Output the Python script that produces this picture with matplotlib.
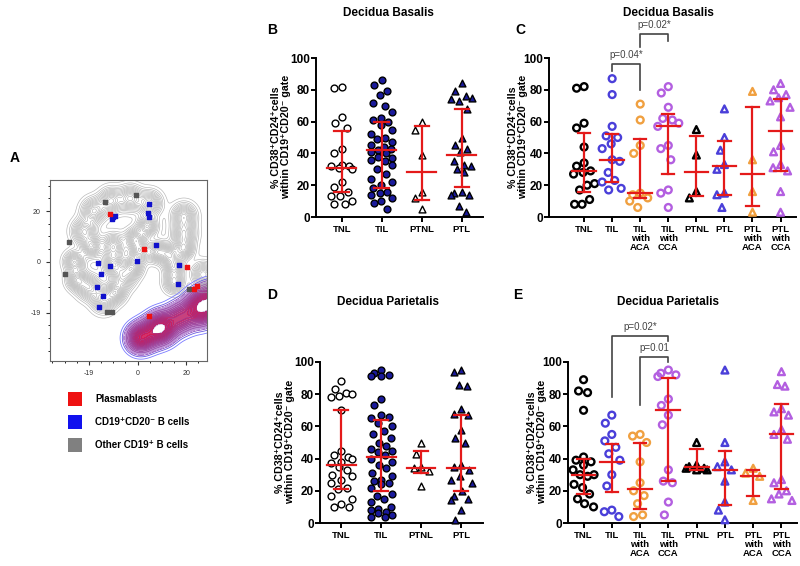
import matplotlib
matplotlib.use('Agg')
import matplotlib.pyplot as plt
import numpy as np
from matplotlib.colors import LinearSegmentedColormap

plt.rcParams['font.family'] = ['Liberation Sans', 'DejaVu Sans']
plt.rcParams['font.weight'] = 'bold'

# ---------------- data ----------------
groups4 = ['TNL', 'TIL', 'PTNL', 'PTL']
groups8 = ['TNL', 'TIL', 'TIL\nwith\nACA', 'TIL\nwith\nCCA', 'PTNL', 'PTL', 'PTL\nwith\nACA', 'PTL\nwith\nCCA']

# B: Decidua Basalis, 4 groups
b_vals = [
    [82, 81, 63, 59, 56, 43, 40, 33, 32, 32, 31, 30, 22, 19, 16, 13, 13, 10, 8, 8],
    [86, 83, 79, 77, 72, 70, 66, 62, 61, 60, 58, 55, 52, 50, 49, 47, 45, 44, 43, 42,
     41, 40, 38, 37, 36, 35, 33, 30, 27, 24, 22, 20, 18, 16, 15, 14, 12, 10, 9, 5],
    [60, 55, 39, 16, 12, 5],
    [84, 79, 76, 75, 74, 73, 68, 50, 45, 43, 41, 35, 33, 32, 30, 28, 16, 15, 14, 14, 7, 3],
]
b_med = [31, 42, 28, 39]
b_q1 = [16, 18, 11, 19]
b_q3 = [54, 60, 57, 68]

# C: Decidua Basalis, 8 groups
c_vals = [
    [82, 81, 59, 56, 44, 34, 32, 29, 28, 27, 21, 20, 17, 11, 8, 8],
    [87, 77, 57, 51, 50, 46, 43, 36, 35, 28, 23, 22, 18, 17],
    [71, 61, 45, 40, 15, 14, 12, 10, 6],
    [82, 78, 69, 62, 61, 59, 57, 45, 43, 36, 17, 15, 6],
    [55, 39, 16, 12],
    [68, 50, 42, 33, 30, 15, 14, 6],
    [79, 36, 16, 3],
    [84, 80, 77, 75, 73, 69, 63, 45, 41, 33, 31, 29, 16, 3],
]
c_med = [29, 36, 15, 57, 28, 32, 27, 54]
c_q1 = [16, 22, 12, 27, 13, 14, 7, 29]
c_q3 = [53, 52, 49, 65, 51, 48, 69, 74]

# D: Decidua Parietalis, 4 groups
d_vals = [
    [88, 83, 81, 80, 79, 78, 70, 45, 42, 41, 40, 38, 37, 35, 33, 30, 29, 27, 25,
     22, 21, 17, 15, 12, 10, 10],
    [95, 93, 92, 91, 91, 77, 73, 67, 66, 65, 62, 60, 57, 55, 53, 50, 48, 46, 45, 44,
     42, 40, 38, 36, 34, 31, 29, 27, 26, 25, 24, 22, 18, 17, 15, 13, 10, 9, 8, 7, 6, 5, 4, 4],
    [50, 43, 35, 34, 32, 23],
    [95, 94, 86, 85, 71, 68, 67, 58, 53, 50, 36, 35, 33, 29, 27, 25, 20, 17, 15, 14, 8, 2],
]
d_med = [36, 41, 34, 34]
d_q1 = [21, 20, 31, 20]
d_q3 = [70, 64, 45, 67]

# E: Decidua Parietalis, 8 groups
e_vals = [
    [89, 82, 81, 70, 41, 39, 38, 36, 33, 30, 30, 29, 24, 22, 18, 15, 12, 10],
    [67, 62, 55, 51, 47, 43, 39, 30, 23, 8, 7, 4],
    [55, 54, 50, 38, 25, 20, 17, 12, 5, 4],
    [95, 93, 92, 91, 77, 73, 67, 61, 33, 26, 25, 13, 5],
    [50, 36, 35, 34, 34, 33, 33],
    [95, 50, 38, 35, 33, 26, 13, 8, 2],
    [34, 31, 29, 14],
    [94, 86, 85, 71, 69, 67, 58, 55, 52, 27, 25, 20, 18, 15, 14],
]
e_med = [30, 38, 21, 70, 35, 33, 29, 55]
e_q1 = [18, 19, 9, 26, 33, 11, 17, 21]
e_q3 = [40, 49, 50, 90, 46, 45, 33, 74]

# significance brackets: (group a, group b, bar height, leg a, leg b, label)
c_brackets = [(1, 2, 96, 92, 80, 'p=0.04*'), (2, 3, 115, 107, 111, 'p=0.02*')]
e_brackets = [(1, 3, 116, 78, 113, 'p=0.02*'), (2, 3, 103, 73, 100, 'p=0.01')]

# A: tSNE map, density blobs (x, y, sigma, weight)
gray_blobs = [(-22, 12, 3, 1), (-18, 20, 3, 1), (-11, 24, 3, 1), (-3, 25, 3, 1), (5, 23, 3, 1),
              (4, 14, 2.5, 1), (-1, 9, 2.5, 1), (-10, 6, 3, 1), (-19, 6, 2.5, 1), (19, 18, 3, 1),
              (19, 11, 3, 1), (19, 5, 2.5, 1), (1, 4, 2.5, 1), (8, 4, 2.5, 1), (13, 3, 2.5, 1),
              (-26, 0, 2.5, 1), (-25, -7, 2.5, 1), (-20, -10, 3, 1), (-14, -15, 3, 1),
              (-9, -12, 2.5, 1), (-6, -6, 3, 1), (-2, -2, 2.5, 1), (-10, -1, 2.5, 1),
              (15, -2, 2.5, 1), (15, -8, 2.5, 1), (27, -5, 3, 1)]
plasma_blobs = [(1, -30, 3.2, 1.0), (5.5, -28, 3.4, 0.55), (10, -25.8, 3.5, 1.2),
                (17.5, -22, 3.5, 0.7), (25.6, -18.3, 3.8, 1.2), (31, -15, 3.8, 0.9)]
blue_pts_x = [4.8, 4.4, 4.8, -10.7, -10, -9.3, 7.5, -0.3, -16.2, -11.4, -15.1, 17.1, 16.7, -16.8, -14.1, -15.9]
blue_pts_y = [22.6, 19.1, 17.5, 16.7, 17.8, 18.2, 6.6, 0.4, -0.3, -1.6, -4.6, -1.4, -8.6, -9.9, -13.3, -17.8]
red_pts_x = [-11.4, 2.7, 20.1, 4.7, 23.3, 24.2]
red_pts_y = [18.7, 5, -2.2, -21.2, -10.5, -9.5]
gray_pts_x = [-13.4, -0.7, -28.2, -29.7, -12.7, -10.4, 21.2]
gray_pts_y = [23.7, 26.3, 7.9, -4.6, -19.7, -19.7, -10.5]
legend_labels = ['Plasmablasts', 'CD19⁺CD20⁻ B cells', 'Other CD19⁺ B cells']
legend_colors = ['#ee1111', '#1111ee', '#808080']

# ---------------- styles ----------------
RED = '#e41a1a'
BLUE = '#4a3fd9'
ORANGE = '#f0a040'
PURPLE = '#b35fe0'
NAVY = '#1a1a9a'
style4 = [dict(m='o', fc='white', ec='black'), dict(m='o', fc=NAVY, ec='black'),
          dict(m='^', fc='white', ec='black'), dict(m='^', fc=NAVY, ec='black')]
cols8 = ['black', BLUE, ORANGE, PURPLE, 'black', BLUE, ORANGE, PURPLE]
style8 = [dict(m='o' if i < 4 else '^', fc='none', ec=c) for i, c in enumerate(cols8)]
YLAB = '% CD38⁺CD24⁺cells\nwithin CD19⁺CD20⁻ gate'

W, H = 800, 566
fig = plt.figure(figsize=(8, 5.66), dpi=100)


def px_axes(l, t, r, b):
    return fig.add_axes([l / W, 1 - b / H, (r - l) / W, (b - t) / H])


def swarm(vals, ypx, xpx, d=7.5, k=0.5, cap=10.5):
    # beeswarm layout in pixel space, returns offsets in category units
    placed = []
    offs = []
    grid = np.linspace(-cap, cap, 43)
    for v in vals:
        y = v * ypx
        best, best_score = 0.0, None
        for c in grid:
            hits = 0.0
            for (py, px) in placed:
                dd = (c - px) ** 2 + (k * (py - y)) ** 2
                if dd < d * d:
                    hits += d * d - dd
            score = hits * 10 + abs(c)
            if best_score is None or score < best_score:
                best, best_score = c, score
        placed.append((y, best))
        offs.append(best / xpx)
    return offs


def dot_panel(ax, vals, med, q1, q3, styles, labels, xlim, lw, wpx, hpx):
    ax.set_xlim(*xlim)
    ax.set_ylim(0, 100)
    xpx = wpx / (xlim[1] - xlim[0])
    ypx = hpx / 100.0
    mw = 0.36 if len(vals) == 4 else 0.42
    cw = 0.18 if len(vals) == 4 else 0.22
    for i, v in enumerate(vals):
        st = styles[i]
        offs = swarm(v, ypx, xpx)
        ax.scatter(np.array(offs) + i, v, marker=st['m'], s=24,
                   facecolors=st['fc'], edgecolors=st['ec'], linewidths=lw,
                   clip_on=False, zorder=3)
        ax.plot([i - mw, i + mw], [med[i], med[i]], color=RED, lw=1.6, zorder=4)
        ax.plot([i, i], [q1[i], q3[i]], color=RED, lw=1.6, zorder=4)
        ax.plot([i - cw, i + cw], [q1[i], q1[i]], color=RED, lw=1.6, zorder=4)
        ax.plot([i - cw, i + cw], [q3[i], q3[i]], color=RED, lw=1.6, zorder=4)
    for s in ['top', 'right']:
        ax.spines[s].set_visible(False)
    ax.spines['left'].set_linewidth(1.4)
    ax.spines['bottom'].set_linewidth(1.4)
    ax.set_yticks([0, 20, 40, 60, 80, 100])
    ax.tick_params(axis='y', labelsize=8.5, width=1.4, length=3.5, pad=1)
    ax.tick_params(axis='x', labelsize=6.8, width=1.4, length=3.5, pad=2)
    ax.set_xticks(range(len(labels)))
    ax.set_xticklabels(labels, linespacing=1.05)
    for t in ax.get_yticklabels() + ax.get_xticklabels():
        t.set_fontweight('bold')


def brackets(ax, brs):
    for a, b, y, ya, yb, lab in brs:
        ax.plot([a, a, b, b], [ya, y, y, yb], color='#444444', lw=1.2, clip_on=False)
        ax.text((a + b) / 2, y + 2.5, lab, ha='center', va='bottom', fontsize=7,
                fontweight='normal', color='#444444', clip_on=False)


def ylab(x, y):
    fig.text(x / W, 1 - y / H, YLAB, rotation=90, ha='center', va='center', fontsize=7.7,
             fontweight='bold', linespacing=1.0, multialignment='center')


# B
axB = px_axes(316, 58, 483, 217)
dot_panel(axB, b_vals, b_med, b_q1, b_q3, style4, groups4, (-0.64, 3.53), 1.0, 167, 159)
ylab(281, 137)
# C
axC = px_axes(549, 58, 796, 217)
dot_panel(axC, c_vals, c_med, c_q1, c_q3, style8, groups8, (-1.25, 7.55), 1.7, 247, 159)
brackets(axC, c_brackets)
ylab(518, 137)
# D
axD = px_axes(320, 362, 483, 523)
dot_panel(axD, d_vals, d_med, d_q1, d_q3, style4, groups4, (-0.53, 3.55), 1.0, 163, 161)
ylab(285, 442)
# E
axE = px_axes(568, 362, 797, 523)
dot_panel(axE, e_vals, e_med, e_q1, e_q3, style8, groups8, (-0.55, 7.55), 1.7, 229, 161)
brackets(axE, e_brackets)
ylab(537, 442)

# titles and panel letters
fig.text(388 / W, 1 - 13 / H, 'Decidua Basalis', ha='center', va='center', fontsize=8.5, fontweight='bold')
fig.text(668 / W, 1 - 13 / H, 'Decidua Basalis', ha='center', va='center', fontsize=8.5, fontweight='bold')
fig.text(388 / W, 1 - 302 / H, 'Decidua Parietalis', ha='center', va='center', fontsize=8.5, fontweight='bold')
fig.text(668 / W, 1 - 302 / H, 'Decidua Parietalis', ha='center', va='center', fontsize=8.5, fontweight='bold')
for lab, x, y in [('A', 15, 158), ('B', 272, 30), ('C', 520, 30), ('D', 272, 295), ('E', 518, 295)]:
    fig.text(x / W, 1 - y / H, lab, ha='center', va='center', fontsize=10, fontweight='bold')

# A: tSNE contour map
axA = px_axes(50, 180, 207, 361)
gx, gy = np.meshgrid(np.linspace(-36, 28.5, 300), np.linspace(-39, 32.2, 300))
zg = np.zeros_like(gx)
for x0, y0, s, w in gray_blobs:
    zg += w * np.exp(-((gx - x0) ** 2 + (gy - y0) ** 2) / (2 * s * s))
zp = np.zeros_like(gx)
for x0, y0, s, w in plasma_blobs:
    zp += w * np.exp(-((gx - x0) ** 2 + (gy - y0) ** 2) / (2 * s * s))
zp = zp / zp.max()
axA.contour(gx, gy, zg, levels=np.linspace(0.06, 1.3, 18), colors='#b4b4b4', linewidths=0.45)
pcmap = LinearSegmentedColormap.from_list('pb', ['#b890d8', '#b04a98', '#c82060', '#d01a58'])
axA.contourf(gx, gy, zp, levels=np.linspace(0.1, 0.88, 16), cmap=pcmap, alpha=0.9)
axA.contour(gx, gy, zp, levels=np.linspace(0.14, 0.86, 14), colors='#8a3a9a', linewidths=0.3)
axA.contour(gx, gy, zp, levels=[0.025, 0.05, 0.075], colors=['#7a7aff', '#6a5ae0', '#8a4ac0'], linewidths=0.6)
axA.contourf(gx, gy, zp, levels=[0.88, 2], colors='white')
axA.scatter(gray_pts_x, gray_pts_y, marker='s', s=5, c='#555555', zorder=3)
axA.scatter(blue_pts_x, blue_pts_y, marker='s', s=7, c='#1111cc', zorder=3)
axA.scatter(red_pts_x, red_pts_y, marker='s', s=7, c='#ee1111', zorder=3)
axA.set_xlim(-36, 28.5)
axA.set_ylim(-39, 32.2)
axA.set_xticks([-20, 0, 20])
axA.set_xticklabels(['-19', '0', '20'])
axA.set_yticks([-20, 0, 20])
axA.set_yticklabels(['-19', '0', '20'])
axA.set_xticks(np.arange(-35, 29, 5), minor=True)
axA.set_yticks(np.arange(-35, 31, 5), minor=True)
axA.tick_params(labelsize=5, length=3, width=0.8, colors='#333333')
axA.tick_params(which='minor', length=1.5, width=0.6)
for t in axA.get_xticklabels() + axA.get_yticklabels():
    t.set_fontweight('normal')
for s in axA.spines.values():
    s.set_color('#666666')
    s.set_linewidth(0.8)

# A legend
for i, (lab, col) in enumerate(zip(legend_labels, legend_colors)):
    yc = 399 + i * 23
    fig.patches.append(plt.Rectangle((68 / W, 1 - (yc + 7) / H), 14 / W, 14 / H,
                                     transform=fig.transFigure, facecolor=col, edgecolor='none'))
    fig.text(95 / W, 1 - yc / H, lab, ha='left', va='center', fontsize=7, fontweight='bold')

fig.savefig('out.png', dpi=100)
